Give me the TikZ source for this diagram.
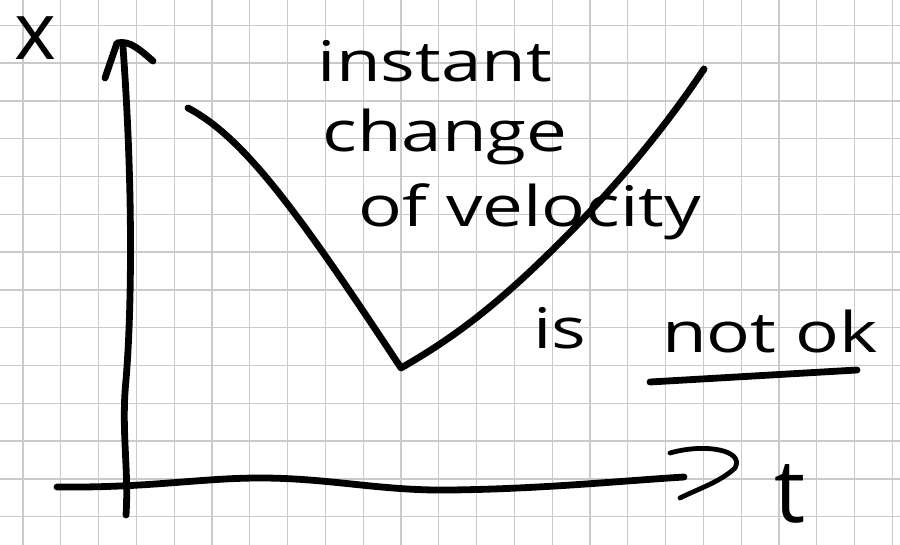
\documentclass[tikz,border=0pt]{standalone}
\usepackage{fontspec}
\usepackage{tikz}
\usetikzlibrary{arrows.meta}
\newfontfamily\handfont[FakeStretch=1.3]{Open Sans}
\newfontfamily\labelfont{Open Sans}
\definecolor{gridgray}{HTML}{CACACA}
\definecolor{ink}{HTML}{000000}
\tikzset{
  gridline/.style={draw=gridgray, line width=0.65pt},
  pen/.style={draw=ink, line width=3.4pt, line cap=round, line join=round},
  thinpen/.style={draw=ink, line width=2.4pt, line cap=round, line join=round},
  hand/.style={anchor=base, inner sep=0pt, text=ink, font=\handfont\fontsize{28}{34}\selectfont},
  axislabel/.style={anchor=base, inner sep=0pt, text=ink}
}
\begin{document}
\begin{tikzpicture}[x=0.5pt, y=-0.5pt]
  \useasboundingbox[fill=white] (0,0) rectangle (900,545);

  % squared paper
  \foreach \i in {0,...,23} {
    \draw[gridline] ({23+37.8*\i},0) -- ({23+37.8*\i},545);
  }
  \foreach \j in {0,...,13} {
    \draw[gridline] (0,{25.3+37.8*\j}) -- (900,{25.3+37.8*\j});
  }

  % axes
  \coordinate (ybottom) at (126,515);
  \coordinate (ytop) at (123,47);
  \coordinate (xleft) at (57,487);
  \coordinate (xright) at (684,477);
  \draw[pen] (ybottom) .. controls (129,470) and (121,430) .. (126,380)
    .. controls (131,320) and (134,200) .. (ytop);
  \draw[pen] (105,78) -- (117,43) .. controls (130,40) and (140,50) .. (153,61);
  \draw[pen] (xleft) .. controls (150,488) and (200,478) .. (260,478)
    .. controls (330,478) and (380,491) .. (450,490)
    .. controls (540,489) and (620,481) .. (xright);
  \draw[thinpen] (670,453) .. controls (705,443) and (745,450) .. (735,468) .. controls (720,482) and (700,488) .. (680,498);

  % position over time
  \coordinate (start) at (188,108);
  \coordinate (kink) at (401,368);
  \coordinate (finish) at (704,69);
  \draw[pen] (start) .. controls (245,138) and (300,215) .. (kink)
    .. controls (450,340) and (490,310) .. (540,262)
    .. controls (590,214) and (650,150) .. (finish);

  % labels
  \node[axislabel, font=\labelfont\fontsize{40}{44}\selectfont] (xlabel) at (35,60) {x};
  \node[axislabel, font=\labelfont\fontsize{44}{48}\selectfont] (tlabel) at (790,522) {t};

  \node[hand] (instant) at (435,82) {instant};
  \node[hand] (change) at (445,152) {change};
  \node[hand] (velocity) at (530,227) {of velocity};
  \node[hand] (is) at (560,349) {is};
  \node[hand] (notok) at (770,352) {not ok};
  \draw[pen] (650,382) -- (857,370);
\end{tikzpicture}
\end{document}
